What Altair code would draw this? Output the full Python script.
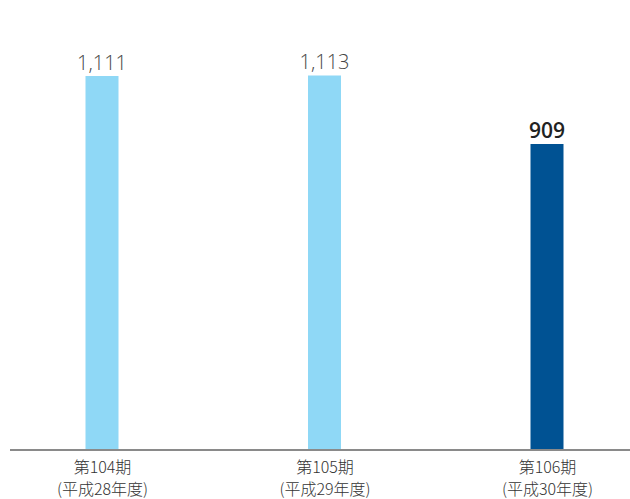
import altair as alt
import pandas as pd

periods = ["第104期|(平成28年度)", "第105期|(平成29年度)", "第106期|(平成30年度)"]
values = [1111, 1113, 909]
labels = ["1,111", "1,113", "909"]
highlight = ["past", "past", "current"]

df = pd.DataFrame({"period": periods, "value": values, "label": labels, "kind": highlight})
base_df = pd.DataFrame({"value": [0]})

FONT = "Noto Sans CJK JP"
NUMFONT = "Open Sans"

yscale = alt.Scale(domain=[0, 1337], nice=False)

x = alt.X("period:N", sort=periods, title=None,
          scale=alt.Scale(type="point", range=[92, 537], padding=0),
          axis=alt.Axis(labelExpr="split(datum.label, '|')", labelAngle=0,
                        labelFontSize=16, labelLineHeight=22, labelColor="#333333",
                        labelFont=FONT, labelFontWeight=300, labelPadding=9, ticks=False,
                        domain=False, grid=False))
y = alt.Y("value:Q", title=None, scale=yscale, axis=None)

color = alt.Color("kind:N", scale=alt.Scale(domain=["past", "current"], range=["#8fd8f6", "#005293"]), legend=None)

base_line = alt.Chart(base_df).mark_rule(color="#8a8a8a", strokeWidth=2).encode(
    x=alt.value(0), x2=alt.value(620), y=alt.Y("value:Q", scale=yscale, axis=None)
)

bars = alt.Chart(df).mark_bar(size=33).encode(x=x, y=y, color=color)

txt_past = alt.Chart(df).transform_filter("datum.kind == 'past'").mark_text(
    baseline="alphabetic", dy=-6, fontSize=20, font=NUMFONT, fontWeight=300, color="#444444"
).encode(x=x, y=y, text="label:N")

txt_cur = alt.Chart(df).transform_filter("datum.kind == 'current'").mark_text(
    baseline="alphabetic", dy=-6, fontSize=21, font=NUMFONT, fontWeight=600, color="#222222"
).encode(x=x, y=y, text="label:N")

chart = alt.layer(bars, base_line, txt_past, txt_cur).properties(
    width=620, height=450,
    padding={"left": 10, "top": 0, "right": 0, "bottom": 49},
    autosize="none",
).configure_view(stroke=None)

chart.save("out.html", embed_options={"renderer": "svg", "actions": False})
